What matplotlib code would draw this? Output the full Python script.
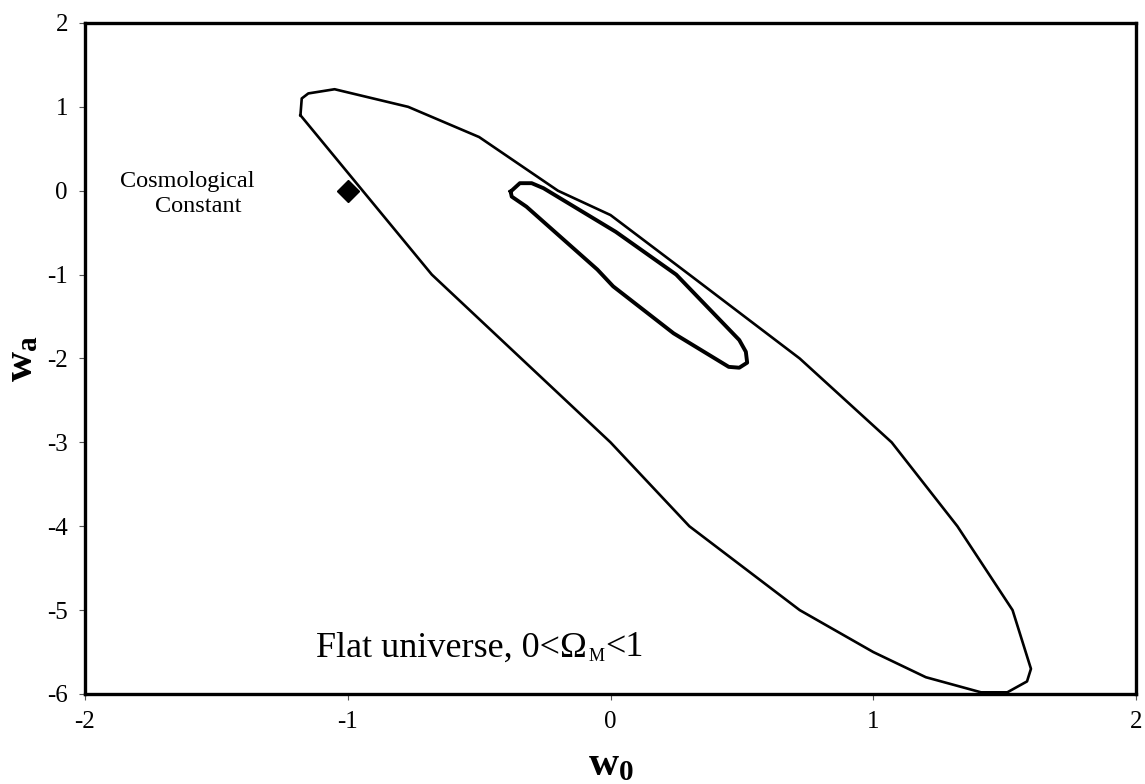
import matplotlib
matplotlib.use("Agg")
import matplotlib.pyplot as plt
from matplotlib.transforms import offset_copy

plt.rcParams['font.family'] = ['Liberation Serif', 'DejaVu Serif']
plt.rcParams['mathtext.fontset'] = 'custom'
plt.rcParams['mathtext.rm'] = 'Liberation Serif'
plt.rcParams['mathtext.bf'] = 'Liberation Serif:bold'
plt.rcParams['axes.unicode_minus'] = False

# outer contour (w0, wa)
outer_w0 = [-1.18, -1.175, -1.15, -1.05, -0.77, -0.50, -0.20, 0.00, 0.30, 0.72,
            1.07, 1.32, 1.53, 1.60, 1.585, 1.51, 1.41, 1.20, 1.00, 0.72,
            0.30, 0.00, -0.68, -1.18]
outer_wa = [0.90, 1.10, 1.16, 1.21, 1.00, 0.64, 0.00, -0.29, -1.00, -2.00,
            -3.00, -4.00, -5.00, -5.70, -5.85, -5.98, -5.98, -5.80, -5.50, -5.00,
            -4.00, -3.00, -1.00, 0.90]

# inner contour
inner_w0 = [-0.38, -0.345, -0.30, -0.255, 0.02, 0.25, 0.49, 0.515, 0.52, 0.49,
            0.45, 0.24, 0.01, -0.05, -0.32, -0.376, -0.38]
inner_wa = [-0.01, 0.09, 0.09, 0.03, -0.49, -1.00, -1.78, -1.92, -2.05, -2.11,
            -2.10, -1.70, -1.14, -0.94, -0.19, -0.07, -0.01]

# cosmological constant point
lam_w0 = [-1.0]
lam_wa = [0.0]

fig = plt.figure(figsize=(11.45, 7.84), dpi=100)
ax = fig.add_axes([0.0742, 0.1148, 0.9180, 0.8559])

ax.plot(outer_w0, outer_wa, color='black', lw=1.9, solid_joinstyle='round')
ax.plot(inner_w0, inner_wa, color='black', lw=2.8, solid_joinstyle='round')
ax.plot(lam_w0, lam_wa, marker='D', color='black', ms=11, ls='none')

ax.text(-1.867, 0.045, "Cosmological", fontsize=17.5, ha='left', va='baseline')
ax.text(-1.734, -0.253, "Constant", fontsize=17.5, ha='left', va='baseline')

# "Flat universe, 0<Ω_M<1" built in pieces so the subscript stays small
tx, ty = -1.12, -5.55
t1 = ax.text(tx, ty, "Flat universe, 0<\u03a9", fontsize=26,
             ha='left', va='baseline')
fig.canvas.draw()
w1 = t1.get_window_extent().width
t2 = ax.text(tx, ty, "M", fontsize=13, ha='left', va='baseline',
             transform=offset_copy(ax.transData, fig, x=w1 + 1, y=-5, units='dots'))
fig.canvas.draw()
w2 = t2.get_window_extent().width
ax.text(tx, ty, "<1", fontsize=26, ha='left', va='baseline',
        transform=offset_copy(ax.transData, fig, x=w1 + w2 + 2, y=0, units='dots'))

ax.set_xlim(-2, 2)
ax.set_ylim(-6, 2)
ax.set_xticks([-2, -1, 0, 1, 2])
ax.set_yticks([-6, -5, -4, -3, -2, -1, 0, 1, 2])
ax.tick_params(direction='out', length=4.3, width=0.8, color='#555555',
               labelsize=18, pad=8)

for s in ax.spines.values():
    s.set_linewidth(2.4)

ax.set_xlabel(r"$\mathbf{w_0}$", fontsize=30, labelpad=9)
ax.set_ylabel(r"$\mathbf{w_a}$", fontsize=30, labelpad=4)

fig.savefig("out.png", dpi=100)
